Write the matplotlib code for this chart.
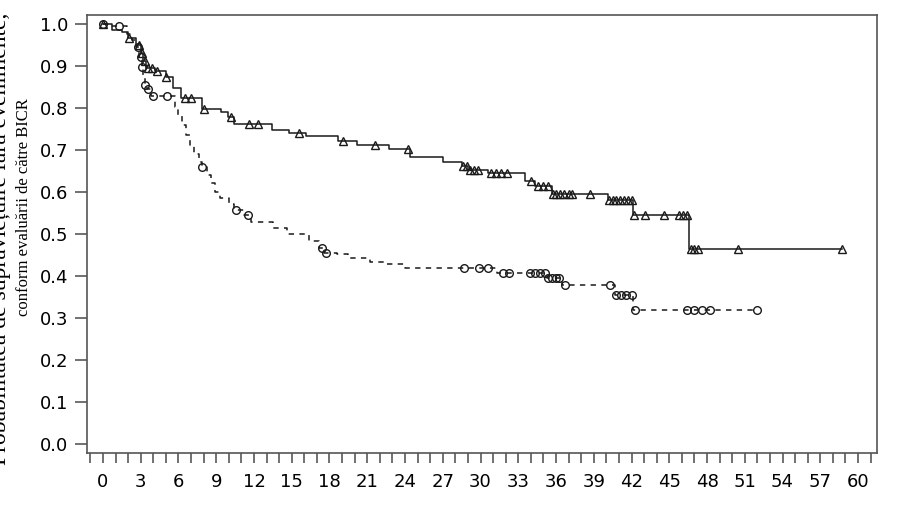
import numpy as np
import matplotlib.pyplot as plt
from matplotlib.ticker import MultipleLocator

# arm A (solid line, triangles): time of each drop and survival after it
a_time = [0, 0.7, 1.5, 2.0, 2.6, 3.0, 3.2, 3.4, 4.1, 5.0, 5.6, 6.2, 7.9, 9.4,
          9.9, 10.4, 13.4, 14.8, 16.1, 18.7, 20.2, 22.7, 24.4, 27.0, 28.5,
          29.0, 30.6, 33.5, 34.3, 35.7, 40.1, 42.1, 46.6]
a_surv = [1.0, 0.986, 0.979, 0.965, 0.950, 0.931, 0.912, 0.895, 0.888, 0.872,
          0.848, 0.823, 0.798, 0.790, 0.778, 0.762, 0.748, 0.740, 0.732, 0.722,
          0.712, 0.702, 0.683, 0.672, 0.662, 0.652, 0.645, 0.625, 0.613, 0.595,
          0.581, 0.545, 0.464]
a_end = 58.7
a_cens = [0, 2.1, 2.9, 3.1, 3.3, 3.6, 3.9, 4.3, 5.0, 6.5, 7.0, 8.0, 10.2, 11.6,
          12.3, 15.6, 19.1, 21.6, 24.2, 28.6, 28.9, 29.2, 29.5, 29.8, 30.8, 31.2,
          31.6, 32.1, 34.0, 34.6, 35.0, 35.4, 35.8, 36.0, 36.3, 36.6, 37.0, 37.3,
          38.7, 40.2, 40.5, 40.8, 41.1, 41.4, 41.7, 42.0, 42.2, 43.1, 44.6, 45.8,
          46.1, 46.4, 46.7, 47.0, 47.3, 50.5, 58.7]

# arm B (dashed line, circles)
b_time = [0, 0.5, 1.9, 2.3, 2.6, 2.9, 3.1, 3.2, 3.3, 3.5, 3.8, 5.7, 6.0, 6.3,
          6.6, 6.9, 7.2, 7.6, 7.9, 8.3, 8.6, 8.9, 9.3, 10.0, 10.4, 11.2, 11.8,
          13.5, 14.6, 16.4, 17.2, 17.6, 18.6, 19.5, 21.2, 22.4, 24.0, 31.3, 35.3,
          36.5, 40.7, 42.1]
b_surv = [1.0, 0.995, 0.975, 0.960, 0.945, 0.920, 0.898, 0.870, 0.855, 0.845,
          0.829, 0.802, 0.780, 0.760, 0.735, 0.710, 0.690, 0.670, 0.660, 0.640,
          0.620, 0.600, 0.585, 0.570, 0.557, 0.545, 0.529, 0.514, 0.500, 0.482,
          0.467, 0.455, 0.452, 0.442, 0.434, 0.428, 0.418, 0.406, 0.394, 0.379,
          0.355, 0.319]
b_end = 52.0
b_cens = [0, 1.3, 2.8, 3.0, 3.1, 3.3, 3.6, 4.0, 5.1, 7.9, 10.6, 11.5, 17.4, 17.7,
          28.7, 29.9, 30.6, 31.8, 32.3, 33.9, 34.3, 34.7, 35.1, 35.4, 35.7, 36.0,
          36.2, 36.7, 40.3, 40.8, 41.2, 41.6, 42.0, 42.3, 46.4, 47.0, 47.6, 48.2,
          52.0]

x_ticks = np.arange(0, 61, 3)
y_ticks = np.arange(0, 1.01, 0.1)
ylabel_1 = 'Probabilitatea de supraviețuire fără evenimente,'
ylabel_2 = 'conform evaluării de către BICR'


def surv_at(times, surv, t):
    idx = np.searchsorted(times, t, side='right') - 1
    return np.asarray(surv)[idx]


fig = plt.figure(figsize=(8.97, 5.11), dpi=100)
ax = fig.add_axes([0.097, 0.113, 0.881, 0.858])

ink = '#1a1a1a'
ax.step(a_time + [a_end], a_surv + [a_surv[-1]], where='post', color=ink, lw=1.1)
ax.plot(a_cens, surv_at(a_time, a_surv, a_cens), ls='none', marker='^', ms=5.5,
        mfc='none', mec=ink, mew=1.0)

ax.step(b_time + [b_end], b_surv + [b_surv[-1]], where='post', color=ink, lw=1.1,
        ls=(0, (3.5, 3.5)))
ax.plot(b_cens, surv_at(b_time, b_surv, b_cens), ls='none', marker='o', ms=5.5,
        mfc='none', mec=ink, mew=1.0)

ax.set_xlim(-1.27, 61.53)
ax.set_ylim(-0.022, 1.021)
ax.set_xticks(x_ticks)
ax.xaxis.set_minor_locator(MultipleLocator(1))
ax.set_yticks(y_ticks)
ax.set_yticklabels([f'{v:.1f}' for v in y_ticks])

for s in ax.spines.values():
    s.set_color('#555555')
    s.set_linewidth(1.2)
ax.tick_params(axis='x', which='both', length=7.5, width=1.3, color='#666666',
               labelsize=13, pad=7)
ax.tick_params(axis='y', length=8.4, width=1.3, color='#666666', labelsize=13, pad=5)

# the label is clipped by the left edge in the original
fig.text(0.001, 1 - 465 / 511, ylabel_1, rotation=90, ha='center', va='bottom',
         family='Liberation Serif', fontsize=17)
fig.text(0.027, 1 - 207 / 511, ylabel_2, rotation=90, ha='center', va='center',
         family='Liberation Serif', fontsize=12)

fig.savefig('out.png', dpi=100)
